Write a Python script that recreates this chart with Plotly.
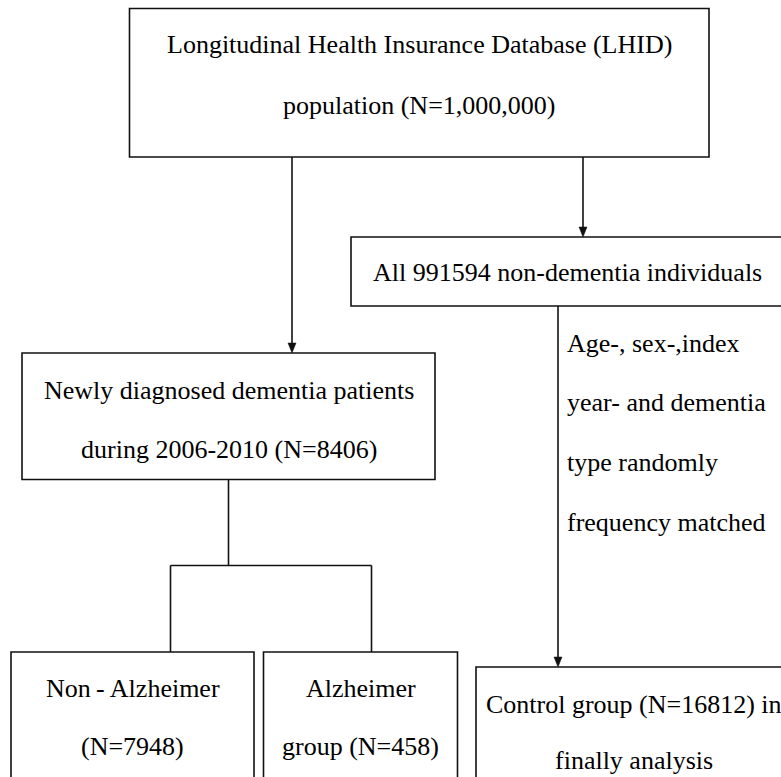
import plotly.graph_objects as go

# ---- Data: node texts (one list entry per text line) ----
top_lines = ["Longitudinal Health Insurance Database (LHID)", "population (N=1,000,000)"]
nondem_lines = ["All 991594 non-dementia individuals"]
newly_lines = ["Newly diagnosed dementia patients", "during 2006-2010 (N=8406)"]
match_lines = ["Age-, sex-,index", "year- and dementia", "type randomly", "frequency matched"]
nonalz_lines = ["Non\u2009-\u2009Alzheimer", "(N=7948)"]
alz_lines = ["Alzheimer", "group (N=458)"]
control_lines = ["Control group (N=16812) in", "finally analysis"]

# ---- Layout geometry (pixel coordinates, y downward) ----
W, H = 781, 777
boxes = {
    "top":     dict(x0=129.5, x1=709, y0=8.5, y1=157),
    "nondem":  dict(x0=351, x1=786, y0=237, y1=306),
    "newly":   dict(x0=22, x1=435, y0=353, y1=479.5),
    "nonalz":  dict(x0=11, x1=254, y0=652, y1=795),
    "alz":     dict(x0=263.5, x1=457.5, y0=652, y1=795),
    "control": dict(x0=476, x1=795, y0=667, y1=795),
}
text_pos = {
    "top":     (419, [44, 105]),
    "nondem":  (567, [272]),
    "newly":   (228.5, [390, 449]),
    "nonalz":  (132.5, [688, 746]),
    "alz":     (360.5, [688, 746]),
    "control": (634, [704, 760]),
}
texts = {
    "top": top_lines, "nondem": nondem_lines, "newly": newly_lines,
    "nonalz": nonalz_lines, "alz": alz_lines, "control": control_lines,
}

FONT = dict(family="Liberation Serif, Times New Roman, serif", size=26, color="black")
LW = 1.6
LC = "#111111"

shapes = []
annotations = []

for k, b in boxes.items():
    shapes.append(dict(type="rect", xref="x", yref="y", line=dict(color=LC, width=LW),
                       fillcolor="white", layer="below", **b))

for k, (cx, ys) in text_pos.items():
    for line, y in zip(texts[k], ys):
        annotations.append(dict(x=cx, y=y, xref="x", yref="y", text=line, showarrow=False,
                                xanchor="center", yanchor="middle", font=FONT))

# side label for matching
match_x = 565
match_ys = [343, 402, 462, 522]
for line, y in zip(match_lines, match_ys):
    annotations.append(dict(x=match_x, y=y, xref="x", yref="y", text=line, showarrow=False,
                            xanchor="left", yanchor="middle", font=FONT))


def seg(x0, y0, x1, y1):
    shapes.append(dict(type="line", xref="x", yref="y", x0=x0, y0=y0, x1=x1, y1=y1,
                       line=dict(color=LC, width=LW)))


def arrow_down(x, y_start, y_tip, hw=4, hl=10):
    seg(x, y_start, x, y_tip - hl + 1)
    shapes.append(dict(type="path", xref="x", yref="y",
                       path=f"M {x-hw},{y_tip-hl} L {x+hw},{y_tip-hl} L {x},{y_tip} Z",
                       fillcolor=LC, line=dict(color=LC, width=0.5)))


# connectors
arrow_down(292, boxes["top"]["y1"], boxes["newly"]["y0"])
arrow_down(583, boxes["top"]["y1"], boxes["nondem"]["y0"])
arrow_down(558, boxes["nondem"]["y1"], boxes["control"]["y0"])
split_y = 565.5
seg(228.5, boxes["newly"]["y1"], 228.5, split_y)
seg(170.5, split_y, 371.5, split_y)
seg(170.5, split_y, 170.5, boxes["nonalz"]["y0"])
seg(371.5, split_y, 371.5, boxes["alz"]["y0"])

fig = go.Figure()
fig.update_layout(
    width=W, height=H,
    margin=dict(l=0, r=0, t=0, b=0),
    paper_bgcolor="white", plot_bgcolor="white",
    xaxis=dict(range=[0, W], visible=False, fixedrange=True),
    yaxis=dict(range=[H, 0], visible=False, fixedrange=True),
    shapes=shapes, annotations=annotations, showlegend=False,
)
fig.write_html("out.html", config={"displayModeBar": False},
               post_script="document.body.style.margin='0';document.body.style.overflow='hidden';")
